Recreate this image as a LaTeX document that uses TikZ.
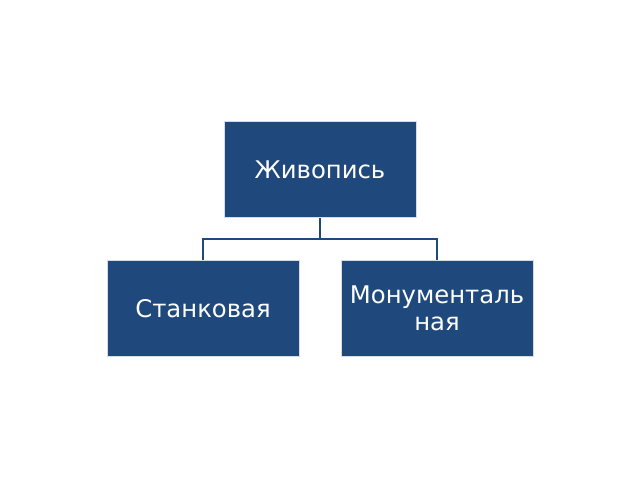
\documentclass[tikz,border=0pt]{standalone}
\usepackage{fontspec}
\setmainfont{DejaVu Sans}
\definecolor{boxblue}{RGB}{31,73,125}
\definecolor{boxedge}{RGB}{214,220,228}

\begin{document}
\begin{tikzpicture}[x=1pt, y=1pt,
		box/.style={draw=boxedge, line width=1pt, fill=boxblue, text=white,
			minimum width=192pt, minimum height=96pt, inner sep=0pt, align=center,
			font=\fontsize{24.3}{26.5}\selectfont},
		link/.style={draw=boxblue, line width=2pt}]
		\useasboundingbox (0, 0) rectangle (640, 480);

		\node[box] (paint) at (320, 310) {Живопись};
		\node[box] (easel) at (203, 171.5) {Станковая};
		\node[box] (monum) at (437, 171.5) {Монументаль\\ная};

		\coordinate (split) at (320, 241);
		\draw[link] (paint.south) -- (split) -| (easel.north);
		\draw[link] (split) -| (monum.north);
	\end{tikzpicture}
\end{document}
